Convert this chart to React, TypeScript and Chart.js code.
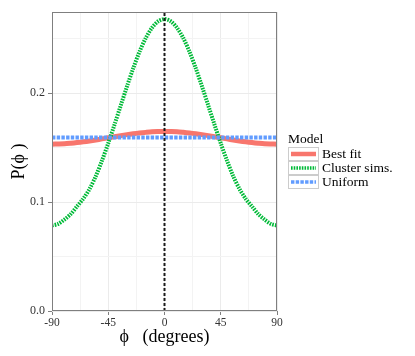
import React, { useEffect, useRef } from "react";
import { Chart, registerables } from "chart.js";

Chart.register(...registerables);

const phi = [-90, -85, -80, -75, -70, -65, -60, -55, -50, -45, -40, -35, -30, -25, -20, -15, -10, -5, 0, 5, 10, 15, 20, 25, 30, 35, 40, 45, 50, 55, 60, 65, 70, 75, 80, 85, 90];

const bestFit = [0.1532, 0.1533, 0.1535, 0.154, 0.1546, 0.1553, 0.1561, 0.157, 0.158, 0.159, 0.16, 0.161, 0.1619, 0.1627, 0.1634, 0.164, 0.1645, 0.1647, 0.1648, 0.1647, 0.1645, 0.164, 0.1634, 0.1627, 0.1619, 0.161, 0.16, 0.159, 0.158, 0.157, 0.1561, 0.1553, 0.1546, 0.154, 0.1535, 0.1533, 0.1532];

const clusterSims = [0.0785, 0.0800, 0.0840, 0.0890, 0.0960, 0.1030, 0.1120, 0.1237, 0.1381, 0.1540, 0.1711, 0.1887, 0.2062, 0.2229, 0.2380, 0.2506, 0.2600, 0.2660, 0.2680, 0.2660, 0.2600, 0.2506, 0.2380, 0.2229, 0.2062, 0.1887, 0.1711, 0.1540, 0.1381, 0.1237, 0.1120, 0.1030, 0.0960, 0.0890, 0.0840, 0.0800, 0.0785];

const uniform = [0.1592, 0.1592, 0.1592, 0.1592, 0.1592, 0.1592, 0.1592, 0.1592, 0.1592, 0.1592, 0.1592, 0.1592, 0.1592, 0.1592, 0.1592, 0.1592, 0.1592, 0.1592, 0.1592, 0.1592, 0.1592, 0.1592, 0.1592, 0.1592, 0.1592, 0.1592, 0.1592, 0.1592, 0.1592, 0.1592, 0.1592, 0.1592, 0.1592, 0.1592, 0.1592, 0.1592, 0.1592];

const xTickLabels = ["-90", "-45", "0", "45", "90"];
const xMajorTicks = [-90, -45, 0, 45, 90];
const yMajorTicks = [0, 0.1, 0.2];
const yTickLabels = ["0.0", "0.1", "0.2"];
const refLineX = [0, 0];
const refLineY = [0, 0.2745];

const seriesNames = ["Best fit", "Cluster sims.", "Uniform"];
const seriesColors = ["#F8766D", "#00BA38", "#619CFF"];
const seriesDash: number[][] = [[], [1.6, 1.1], [3.4, 1.3]];
const seriesWidth = [5, 4, 4];

const FONT = "'Liberation Serif', 'DejaVu Serif', serif";

function isMajor(v: number, list: number[]) {
  return list.some((m) => Math.abs(m - v) < 1e-6);
}

const panelPlugin = {
  id: "panelAndLegend",
  afterDraw(chart: any) {
    const { ctx, chartArea } = chart;
    ctx.save();
    ctx.strokeStyle = "#7F7F7F";
    ctx.lineWidth = 1;
    ctx.strokeRect(
      Math.round(chartArea.left) + 0.5,
      Math.round(chartArea.top) + 0.5,
      Math.round(chartArea.right - chartArea.left) - 1,
      Math.round(chartArea.bottom - chartArea.top) - 1
    );
    // legend
    const lx = 288;
    const titleY = 139;
    ctx.fillStyle = "#000";
    ctx.font = `13.5px ${FONT}`;
    ctx.textBaseline = "middle";
    ctx.textAlign = "left";
    ctx.fillText("Model", lx, titleY);
    const rowTop = 147;
    const rowH = 14;
    const keyW = 31;
    for (let i = 0; i < seriesNames.length; i++) {
      const y0 = rowTop + i * rowH;
      ctx.fillStyle = "#FFFFFF";
      ctx.fillRect(lx, y0, keyW, rowH);
      ctx.strokeStyle = "#CCCCCC";
      ctx.lineWidth = 1;
      ctx.setLineDash([]);
      ctx.strokeRect(lx + 0.5, y0 + 0.5, keyW - 1, rowH - 1);
      ctx.strokeStyle = seriesColors[i];
      ctx.lineWidth = seriesWidth[i] - 0.5;
      ctx.setLineDash(seriesDash[i]);
      ctx.beginPath();
      ctx.moveTo(lx + 3, y0 + rowH / 2);
      ctx.lineTo(lx + keyW - 3, y0 + rowH / 2);
      ctx.stroke();
      ctx.setLineDash([]);
      ctx.fillStyle = "#000";
      ctx.fillText(seriesNames[i], lx + keyW + 3, y0 + rowH / 2 + 0.5);
    }
    ctx.restore();
  },
};

export default function App() {
  const ref = useRef<HTMLCanvasElement>(null);
  useEffect(() => {
    if (!ref.current) return;
    const mk = (ys: number[]) => phi.map((x, i) => ({ x, y: ys[i] }));
    const datasets: any[] = [
      {
        label: seriesNames[0],
        data: mk(bestFit),
        borderColor: seriesColors[0],
        borderWidth: seriesWidth[0],
        borderDash: seriesDash[0],
        pointRadius: 0,
        tension: 0.3,
        order: 3,
      },
      {
        label: seriesNames[1],
        data: mk(clusterSims),
        borderColor: seriesColors[1],
        borderWidth: seriesWidth[1],
        borderDash: seriesDash[1],
        borderCapStyle: "butt",
        pointRadius: 0,
        tension: 0.3,
        order: 2,
      },
      {
        label: seriesNames[2],
        data: mk(uniform),
        borderColor: seriesColors[2],
        borderWidth: seriesWidth[2],
        borderDash: seriesDash[2],
        pointRadius: 0,
        order: 1,
      },
      {
        label: "ref",
        data: refLineX.map((x, i) => ({ x, y: refLineY[i] })),
        borderColor: "#1A1A1A",
        borderWidth: 2,
        borderDash: [3, 2],
        pointRadius: 0,
        order: 0,
      },
    ];
    const chart = new Chart(ref.current, {
      type: "line",
      data: { datasets },
      options: {
        animation: false,
        responsive: false,
        maintainAspectRatio: false,
        layout: { padding: { left: 0, right: 138, top: 12, bottom: 0 } },
        plugins: { legend: { display: false }, tooltip: { enabled: false } },
        scales: {
          x: {
            type: "linear",
            min: -90,
            max: 90,
            afterFit: (s: any) => {
              s.height = 45;
            },
            afterBuildTicks: (s: any) => {
              s.ticks = [-90, -67.5, -45, -22.5, 0, 22.5, 45, 67.5, 90].map((v) => ({ value: v }));
            },
            ticks: {
              autoSkip: false,
              maxRotation: 0,
              padding: 1,
              color: "#333333",
              font: { family: FONT, size: 11.5 },
              callback: (v: any) => {
                const idx = xMajorTicks.findIndex((m) => Math.abs(m - Number(v)) < 1e-6);
                return idx >= 0 ? xTickLabels[idx] : "";
              },
            },
            grid: {
              color: (c: any) => (isMajor(c.tick?.value, xMajorTicks) ? "#EBEBEB" : "#F3F3F3"),
              tickColor: (c: any) => (isMajor(c.tick?.value, xMajorTicks) ? "#7F7F7F" : "rgba(0,0,0,0)"),
              tickLength: 4,
              lineWidth: 1,
            },
            border: { display: false },
            title: {
              display: true,
              text: "ϕ   (degrees)",
              color: "#000",
              font: { family: FONT, size: 18 },
              padding: { top: 0, bottom: 8 },
            },
          },
          y: {
            type: "linear",
            min: 0,
            max: 0.2745,
            afterFit: (s: any) => {
              s.width = 52;
            },
            afterBuildTicks: (s: any) => {
              s.ticks = [0, 0.05, 0.1, 0.15, 0.2, 0.25].map((v) => ({ value: v }));
            },
            ticks: {
              autoSkip: false,
              padding: 3,
              color: "#333333",
              font: { family: FONT, size: 12 },
              callback: (v: any) => {
                const idx = yMajorTicks.findIndex((m) => Math.abs(m - Number(v)) < 1e-6);
                return idx >= 0 ? yTickLabels[idx] : "";
              },
            },
            grid: {
              color: (c: any) => (isMajor(c.tick?.value, yMajorTicks) ? "#EBEBEB" : "#F3F3F3"),
              tickColor: (c: any) => (isMajor(c.tick?.value, yMajorTicks) ? "#7F7F7F" : "rgba(0,0,0,0)"),
              tickLength: 4,
              lineWidth: 1,
            },
            border: { display: false },
            title: {
              display: true,
              text: "P(ϕ )",
              color: "#000",
              font: { family: FONT, size: 18 },
              padding: { top: 8, bottom: 0 },
            },
          },
        },
      },
      plugins: [panelPlugin],
    });
    return () => chart.destroy();
  }, []);
  return (
    <div style={{ position: "fixed", left: 0, top: 0, width: 415, height: 356, background: "#fff" }}>
      <canvas ref={ref} width={415} height={356} style={{ width: 415, height: 356, display: "block" }} />
    </div>
  );
}
